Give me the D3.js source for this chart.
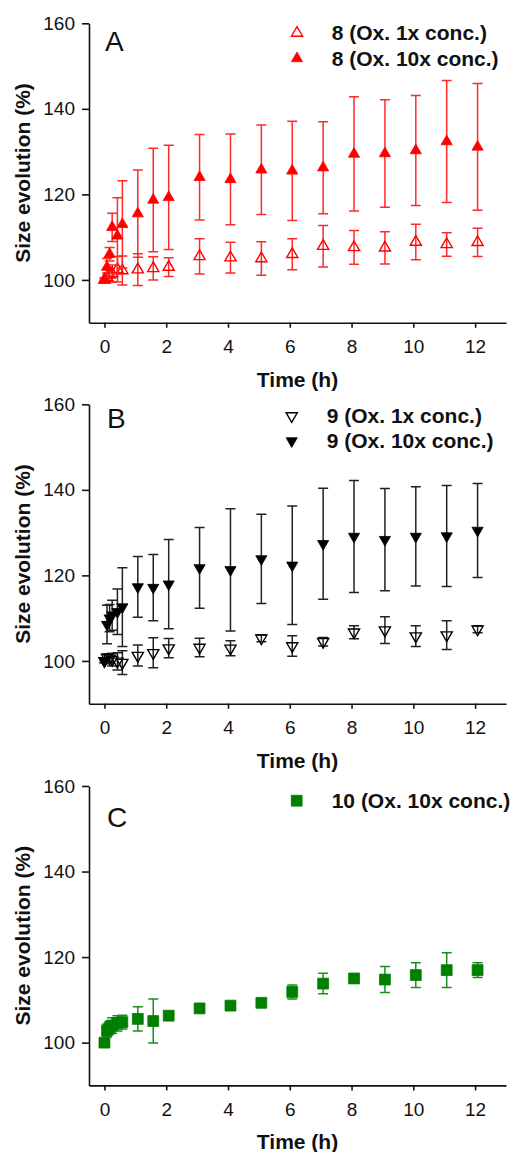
<!DOCTYPE html>
<html>
<head>
<meta charset="utf-8">
<script src="https://cdn.jsdelivr.net/npm/d3@7"></script>
<style>
    body { margin: 0; background: #fff; }
    svg text { font-family: "Liberation Sans", Arial, sans-serif; }
    .tick text { font-size: 19px; fill: #111; }
    .axis-title { font-size: 21px; font-weight: bold; fill: #111; }
    .legend-label { font-size: 21px; font-weight: bold; fill: #111; }
    .panel-letter { font-size: 28px; fill: #111; }
</style>
</head>
<body>
<div id="chart"></div>
<script>

// sampling times (h)
let times = [0, 0.083, 0.167, 0.25, 0.42, 0.58, 1.08, 1.58, 2.08, 3.08, 4.08, 5.08, 6.08, 7.08, 8.08, 9.08, 10.08, 11.08, 12.08];

// panel A, compound 8
let a1Mean = [100, 100.6, 101.2, 101.5, 102.5, 102.2, 102.4, 102.7, 103, 105.5, 105.2, 105, 106, 107.9, 107.6, 107.5, 108.85, 108.3, 108.8];
let a1Sd = [0.3, 1, 1.5, 2, 3, 3.4, 3.7, 2.7, 2.2, 4.1, 3.6, 3.9, 3.6, 4.85, 3.95, 3.75, 4.15, 2.75, 3.3];
let a10Mean = [100, 103, 106, 112.3, 110.3, 113, 115.5, 118.7, 119.3, 124, 123.5, 125.75, 125.5, 126.25, 129.45, 129.55, 130.25, 132.35, 131.1];
let a10Sd = [0.5, 2, 1.6, 3.3, 8.9, 10.2, 10.2, 12.1, 12.2, 10, 10.6, 10.45, 11.6, 10.75, 13.35, 12.55, 12.85, 14.25, 14.8];

// panel B, compound 9
let b1Mean = [100, 100.8, 100.6, 100.3, 99.9, 99.6, 101.25, 101.9, 103, 103.15, 102.95, 105.3, 103.5, 104.5, 106.7, 107.2, 105.8, 106.05, 107.4];
let b1Sd = [0.3, 0.8, 1, 1.5, 2, 2.8, 2.45, 3.5, 2.25, 2.15, 1.75, 0.8, 2.4, 1, 1.5, 3.1, 2.4, 3.35, 0.8];
let b10Mean = [100, 108.5, 110, 110.7, 111.5, 112.6, 117.3, 117.15, 117.95, 121.75, 121.3, 123.85, 122.35, 127.4, 129.1, 128.35, 129.1, 129.2, 130.5];
let b10Sd = [0.5, 4.5, 3.2, 3.5, 5.3, 9.2, 7.1, 7.75, 10.45, 9.45, 14.3, 10.45, 13.85, 13, 13.1, 11.95, 11.6, 11.8, 11];

// panel C, compound 10
let c10Mean = [100, 102.8, 103.5, 104, 104.5, 104.8, 105.55, 105.05, 106.3, 108, 108.65, 109.3, 111.85, 113.8, 115, 114.75, 115.8, 116.95, 116.95];
let c10Sd = [0.5, 1.5, 1.5, 1.8, 1.8, 1.6, 2.85, 5.15, 0.5, 0.5, 0.5, 0.5, 1.65, 2.4, 1, 3.05, 2.9, 4.05, 1.75];

let xTicks = [0, 2, 4, 6, 8, 10, 12];
let yTicks = [100, 120, 140, 160];


class TimeCoursePanel {

    constructor(svg, config) {
        this.svg = svg;
        this.config = config;
        this.initVis();
    }

    initVis() {
        let vis = this;

        vis.margin = {top: vis.config.top, left: 89};
        vis.width = 417;
        vis.height = 299.4;

        vis.g = vis.svg.append("g")
            .attr("transform", "translate(" + vis.margin.left + "," + vis.margin.top + ")");

        vis.x = d3.scaleLinear().domain([-0.5, 13]).range([0, vis.width]);
        vis.y = d3.scaleLinear().domain([90, 160]).range([vis.height, 0]);

        vis.xAxis = d3.axisBottom(vis.x).tickValues(xTicks).tickSize(5).tickSizeOuter(0).tickPadding(12);
        vis.yAxis = d3.axisLeft(vis.y).tickValues(yTicks).tickSize(7).tickSizeOuter(0).tickPadding(7);

        vis.g.append("g").attr("class", "axis")
            .attr("transform", "translate(0," + vis.height + ")")
            .call(vis.xAxis);
        vis.g.append("g").attr("class", "axis")
            .call(vis.yAxis);

        vis.g.selectAll(".axis path, .axis line")
            .attr("stroke", "#111")
            .attr("stroke-width", 1.6);

        // axis titles
        vis.g.append("text")
            .attr("class", "axis-title")
            .attr("x", vis.width / 2)
            .attr("y", vis.height + 64)
            .attr("text-anchor", "middle")
            .text("Time (h)");

        vis.g.append("text")
            .attr("class", "axis-title")
            .attr("transform", `translate(${30 - vis.margin.left}, ${vis.height / 2}) rotate(-90)`)
            .attr("text-anchor", "middle")
            .text("Size evolution (%)");

        vis.g.append("text")
            .attr("class", "panel-letter")
            .attr("x", vis.config.letterPos[0])
            .attr("y", vis.config.letterPos[1])
            .text(vis.config.letter);

        vis.updateVis();
    }

    symbolPath(s) {
        if (s.shape === "square") return d3.symbol(d3.symbolSquare, 118)();
        return d3.symbol(d3.symbolTriangle, 54)();
    }

    updateVis() {
        let vis = this;
        let capW = 5;

        vis.config.series.forEach(function (s) {
            let pts = times.map((t, i) => ({t: t, mean: s.mean[i], sd: s.sd[i]}));

            let bars = vis.g.append("g").attr("class", "errbars")
                .attr("stroke", s.lineColor)
                .attr("stroke-width", 1.5)
                .attr("fill", "none");

            bars.selectAll(".err")
                .data(pts)
                .enter()
                .append("path")
                .attr("d", d => {
                    let cx = vis.x(d.t), y0 = vis.y(d.mean - d.sd), y1 = vis.y(d.mean + d.sd);
                    return `M${cx},${y0}V${y1}M${cx - capW},${y1}H${cx + capW}M${cx - capW},${y0}H${cx + capW}`;
                });

            vis.g.append("g").selectAll(".pt")
                .data(pts)
                .enter()
                .append("path")
                .attr("d", vis.symbolPath(s))
                .attr("transform", d => `translate(${vis.x(d.t)},${vis.y(d.mean)})` + (s.shape === "down" ? " rotate(180)" : ""))
                .attr("fill", s.filled ? s.color : "none")
                .attr("stroke", s.color)
                .attr("stroke-width", s.filled ? 0.8 : 1.4);
        });

        // legend
        let lg = vis.config.legend;
        let legend = vis.g.append("g").attr("class", "legend");
        let items = legend.selectAll(".item")
            .data(vis.config.series)
            .enter()
            .append("g")
            .attr("transform", (d, i) => "translate(0," + (lg.y + i * lg.step) + ")");

        items.append("path")
            .attr("d", d => vis.symbolPath(d))
            .attr("transform", d => `translate(${lg.markerX},-7)` + (d.shape === "down" ? " rotate(180)" : ""))
            .attr("fill", d => d.filled ? d.color : "none")
            .attr("stroke", d => d.color)
            .attr("stroke-width", d => d.filled ? 0.8 : 1.4);

        items.append("text")
            .attr("class", "legend-label")
            .attr("x", lg.textX)
            .text(d => d.label);
    }
}


let svg = d3.select("#chart").append("svg")
    .attr("width", 513)
    .attr("height", 1152);

new TimeCoursePanel(svg, {
    top: 23.3,
    letter: "A",
    letterPos: [16, 28],
    legend: {markerX: 208, textX: 242.7, y: 16.7, step: 25.5},
    series: [
        {label: "8 (Ox. 1x conc.)", mean: a1Mean, sd: a1Sd, shape: "up", filled: false, color: "#ff0000", lineColor: "#ff2a2a"},
        {label: "8 (Ox. 10x conc.)", mean: a10Mean, sd: a10Sd, shape: "up", filled: true, color: "#ff0000", lineColor: "#ff2a2a"}
    ]
});

new TimeCoursePanel(svg, {
    top: 404.3,
    letter: "B",
    letterPos: [18, 24],
    legend: {markerX: 202.7, textX: 237.7, y: 18.7, step: 25},
    series: [
        {label: "9 (Ox. 1x conc.)", mean: b1Mean, sd: b1Sd, shape: "down", filled: false, color: "#000", lineColor: "#222"},
        {label: "9 (Ox. 10x conc.)", mean: b10Mean, sd: b10Sd, shape: "down", filled: true, color: "#000", lineColor: "#222"}
    ]
});

new TimeCoursePanel(svg, {
    top: 786,
    letter: "C",
    letterPos: [18, 41],
    legend: {markerX: 207.7, textX: 242.7, y: 21.7, step: 25},
    series: [
        {label: "10 (Ox. 10x conc.)", mean: c10Mean, sd: c10Sd, shape: "square", filled: true, color: "#007f00", lineColor: "#1a8f1a"}
    ]
});

</script>
</body>
</html>
